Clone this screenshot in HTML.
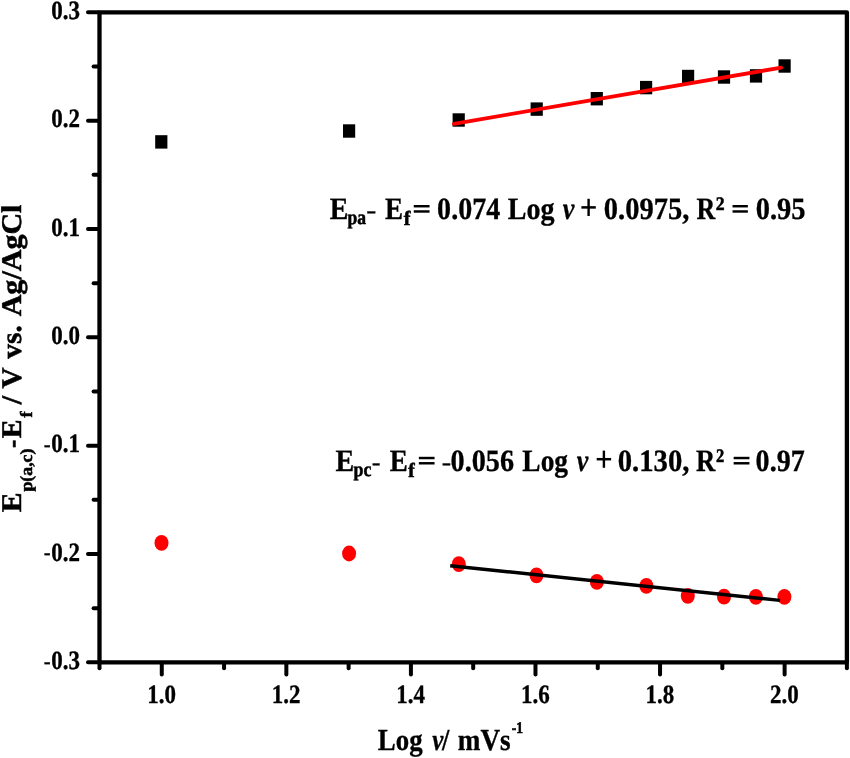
<!DOCTYPE html>
<html><head><meta charset="utf-8"><title>chart</title>
<style>
html,body{margin:0;padding:0;background:#fff;}
body{width:850px;height:758px;overflow:hidden;}
svg{display:block;filter:blur(0.45px);}
text{font-family:"Liberation Serif",serif;font-weight:bold;fill:#000;stroke:#000;stroke-width:0.3px;text-rendering:geometricPrecision;}
.i{font-style:italic;}
</style></head><body>
<svg width="850" height="758" viewBox="0 0 850 758">
<rect width="850" height="758" fill="#fff"/>

<rect x="99.5" y="12.3" width="747.4" height="650.0" fill="none" stroke="#000" stroke-width="4.3" stroke-linejoin="round"/>
<g stroke="#000" stroke-width="4" stroke-linecap="round">
<line x1="88.0" y1="12.30" x2="98.5" y2="12.30"/>
<line x1="93.6" y1="66.47" x2="98.5" y2="66.47"/>
<line x1="88.0" y1="120.63" x2="98.5" y2="120.63"/>
<line x1="93.6" y1="174.80" x2="98.5" y2="174.80"/>
<line x1="88.0" y1="228.97" x2="98.5" y2="228.97"/>
<line x1="93.6" y1="283.13" x2="98.5" y2="283.13"/>
<line x1="88.0" y1="337.30" x2="98.5" y2="337.30"/>
<line x1="93.6" y1="391.47" x2="98.5" y2="391.47"/>
<line x1="88.0" y1="445.63" x2="98.5" y2="445.63"/>
<line x1="93.6" y1="499.80" x2="98.5" y2="499.80"/>
<line x1="88.0" y1="553.97" x2="98.5" y2="553.97"/>
<line x1="93.6" y1="608.13" x2="98.5" y2="608.13"/>
<line x1="88.0" y1="662.30" x2="98.5" y2="662.30"/>
<line x1="99.50" y1="663.3" x2="99.50" y2="668.3"/>
<line x1="161.78" y1="663.3" x2="161.78" y2="674.4"/>
<line x1="224.07" y1="663.3" x2="224.07" y2="668.3"/>
<line x1="286.35" y1="663.3" x2="286.35" y2="674.4"/>
<line x1="348.63" y1="663.3" x2="348.63" y2="668.3"/>
<line x1="410.92" y1="663.3" x2="410.92" y2="674.4"/>
<line x1="473.20" y1="663.3" x2="473.20" y2="668.3"/>
<line x1="535.48" y1="663.3" x2="535.48" y2="674.4"/>
<line x1="597.77" y1="663.3" x2="597.77" y2="668.3"/>
<line x1="660.05" y1="663.3" x2="660.05" y2="674.4"/>
<line x1="722.33" y1="663.3" x2="722.33" y2="668.3"/>
<line x1="784.62" y1="663.3" x2="784.62" y2="674.4"/>
<line x1="846.90" y1="663.3" x2="846.90" y2="668.3"/>
</g>
<text transform="translate(79.9,18.90) scale(1,1.15)" font-size="23" text-anchor="end">0.3</text>
<text transform="translate(79.9,127.23) scale(1,1.15)" font-size="23" text-anchor="end">0.2</text>
<text transform="translate(79.9,235.57) scale(1,1.15)" font-size="23" text-anchor="end">0.1</text>
<text transform="translate(79.9,343.90) scale(1,1.15)" font-size="23" text-anchor="end">0.0</text>
<text transform="translate(43.7,451.13) scale(0.9,0.86)" font-size="23">-</text>
<text transform="translate(79.9,452.23) scale(1,1.15)" font-size="23" text-anchor="end">0.1</text>
<text transform="translate(43.7,559.47) scale(0.9,0.86)" font-size="23">-</text>
<text transform="translate(79.9,560.57) scale(1,1.15)" font-size="23" text-anchor="end">0.2</text>
<text transform="translate(43.7,667.80) scale(0.9,0.86)" font-size="23">-</text>
<text transform="translate(79.9,668.90) scale(1,1.15)" font-size="23" text-anchor="end">0.3</text>
<text transform="translate(161.58,703.0) scale(1,1.15)" font-size="23" text-anchor="middle">1.0</text>
<text transform="translate(286.15,703.0) scale(1,1.15)" font-size="23" text-anchor="middle">1.2</text>
<text transform="translate(410.72,703.0) scale(1,1.15)" font-size="23" text-anchor="middle">1.4</text>
<text transform="translate(535.28,703.0) scale(1,1.15)" font-size="23" text-anchor="middle">1.6</text>
<text transform="translate(659.85,703.0) scale(1,1.15)" font-size="23" text-anchor="middle">1.8</text>
<text transform="translate(784.42,703.0) scale(1,1.15)" font-size="23" text-anchor="middle">2.0</text>
<g fill="#000"><rect x="155.20" y="135.20" width="12.2" height="13.4"/><rect x="343.00" y="124.30" width="12.2" height="13.4"/><rect x="452.60" y="113.30" width="12.2" height="13.4"/><rect x="530.60" y="102.40" width="12.2" height="13.4"/><rect x="590.70" y="92.00" width="12.2" height="13.4"/><rect x="640.00" y="80.90" width="12.2" height="13.4"/><rect x="682.00" y="69.80" width="12.2" height="13.4"/><rect x="717.90" y="70.30" width="12.2" height="13.4"/><rect x="749.90" y="69.20" width="12.2" height="13.4"/><rect x="778.50" y="59.30" width="12.2" height="13.4"/></g>
<g fill="#fe0000"><ellipse cx="161.50" cy="542.90" rx="7.0" ry="7.9"/><ellipse cx="349.10" cy="553.50" rx="7.0" ry="7.9"/><ellipse cx="458.80" cy="564.20" rx="7.0" ry="7.9"/><ellipse cx="536.50" cy="575.30" rx="7.0" ry="7.9"/><ellipse cx="596.90" cy="581.90" rx="7.0" ry="7.9"/><ellipse cx="646.40" cy="585.90" rx="7.0" ry="7.9"/><ellipse cx="687.80" cy="595.80" rx="7.0" ry="7.9"/><ellipse cx="724.00" cy="596.70" rx="7.0" ry="7.9"/><ellipse cx="755.90" cy="596.80" rx="7.0" ry="7.9"/><ellipse cx="784.40" cy="596.80" rx="7.0" ry="7.9"/></g>
<line x1="453.9" y1="123.9" x2="781.2" y2="67.6" stroke="#fe0000" stroke-width="3.8" stroke-linecap="round"/>
<line x1="450.2" y1="565.7" x2="780.0" y2="600.4" stroke="#000" stroke-width="3.4"/>
<text transform="translate(329.75,218.90) scale(0.9970,1.11)" font-size="28">E</text>
<text transform="translate(347.41,224.30) scale(0.9653,1.11)" font-size="18.2" style="stroke-width:0.5px">pa</text>
<text transform="translate(366.27,217.90) scale(1.0759,0.85)" font-size="28">-</text>
<text transform="translate(385.07,218.90) scale(0.9672,1.11)" font-size="28">E</text>
<text transform="translate(403.71,225.10) scale(1.1102,1.11)" font-size="18.2" style="stroke-width:0.5px">f</text>
<text transform="translate(437.12,218.90) scale(1.0004,1.11)" font-size="28">0.074</text>
<text transform="translate(507.85,218.90) scale(1.0005,1.11)" font-size="28">Log</text>
<text transform="translate(562.82,218.90) scale(0.9374,1.11)" font-size="28" class="i">v</text>
<text transform="translate(603.81,218.90) scale(1.0177,1.11)" font-size="28">0.0975,</text>
<text transform="translate(696.38,218.90) scale(0.9300,1.11)" font-size="28">R</text>
<text transform="translate(715.78,209.90) scale(1.0246,1.11)" font-size="17.3" style="stroke-width:0.5px">2</text>
<text transform="translate(755.71,218.90) scale(1.0176,1.11)" font-size="28">0.95</text>
<text transform="translate(335.45,470.70) scale(1.0030,1.11)" font-size="28">E</text>
<text transform="translate(353.60,476.10) scale(0.9829,1.11)" font-size="18.2" style="stroke-width:0.5px">pc</text>
<text transform="translate(371.81,469.70) scale(0.9379,0.85)" font-size="28">-</text>
<text transform="translate(389.67,470.70) scale(0.9672,1.11)" font-size="28">E</text>
<text transform="translate(408.22,476.90) scale(1.0612,1.11)" font-size="18.2" style="stroke-width:0.5px">f</text>
<text transform="translate(441.84,469.70) scale(1.0069,0.85)" font-size="28">-</text>
<text transform="translate(450.62,470.70) scale(1.0066,1.11)" font-size="28">0.056</text>
<text transform="translate(522.36,470.70) scale(0.9787,1.11)" font-size="28">Log</text>
<text transform="translate(576.72,470.70) scale(0.9293,1.11)" font-size="28" class="i">v</text>
<text transform="translate(617.70,470.70) scale(1.0244,1.11)" font-size="28">0.130,</text>
<text transform="translate(695.97,470.70) scale(0.9550,1.11)" font-size="28">R</text>
<text transform="translate(716.03,461.70) scale(0.9544,1.11)" font-size="17.3" style="stroke-width:0.5px">2</text>
<text transform="translate(755.62,470.70) scale(1.0011,1.11)" font-size="28">0.97</text>
<text transform="translate(377.85,749.55) scale(0.9944,1.13)" font-size="27">Log</text>
<text transform="translate(432.22,749.55) scale(0.9250,1.13)" font-size="27" class="i">v</text>
<text transform="translate(441.99,749.55) scale(0.9750,1.13)" font-size="27">/</text>
<text transform="translate(457.79,749.55) scale(1.0073,1.13)" font-size="27">mVs</text>
<text transform="translate(511.66,733.05) scale(0.9735,1.17)" font-size="14" style="stroke-width:0.5px">-1</text>
<rect x="413.75" y="205.00" width="15.80" height="2.45"/><rect x="413.75" y="210.25" width="15.80" height="2.45"/><rect x="732.55" y="205.00" width="15.30" height="2.45"/><rect x="732.55" y="210.25" width="15.30" height="2.45"/><rect x="418.85" y="456.80" width="15.70" height="2.45"/><rect x="418.85" y="462.05" width="15.70" height="2.45"/><rect x="733.65" y="456.80" width="15.80" height="2.45"/><rect x="733.65" y="462.05" width="15.80" height="2.45"/>
<rect x="581.40" y="206.15" width="14.4" height="2.5"/><rect x="587.40" y="198.80" width="2.4" height="17.2"/><rect x="596.70" y="457.95" width="14.4" height="2.5"/><rect x="602.70" y="450.60" width="2.4" height="17.2"/>
<text transform="translate(20.80,512.0) rotate(-90) translate(-0.17,0) scale(1.0353,1.0)" font-size="28.5" style="stroke-width:0.5px">E</text>
<text transform="translate(31.60,512.0) rotate(-90) translate(20.39,0) scale(1.0370,1.0)" font-size="17.2" style="stroke-width:0.5px">p(a,c)</text>
<text transform="translate(20.80,512.0) rotate(-90) translate(63.98,0) scale(0.8667,1.0)" font-size="28.5" style="stroke-width:0.5px">-</text>
<text transform="translate(20.80,512.0) rotate(-90) translate(73.86,0) scale(0.9882,1.0)" font-size="28.5" style="stroke-width:0.5px">E</text>
<text transform="translate(31.60,512.0) rotate(-90) translate(94.42,0) scale(1.0609,1.0)" font-size="17.2" style="stroke-width:0.5px">f</text>
<text transform="translate(20.80,512.0) rotate(-90) translate(107.71,0) scale(1.0507,1.0)" font-size="28.5" style="stroke-width:0.5px">/</text>
<text transform="translate(20.80,512.0) rotate(-90) translate(123.47,0) scale(1.0264,1.0)" font-size="28.5" style="stroke-width:0.5px">V</text>
<text transform="translate(20.80,512.0) rotate(-90) translate(153.35,0) scale(1.0368,1.0)" font-size="28.5" style="stroke-width:0.5px">vs.</text>
<text transform="translate(20.80,512.0) rotate(-90) translate(195.69,0) scale(1.0534,1.0)" font-size="28.5" style="stroke-width:0.5px">Ag/AgCl</text>
</svg></body></html>
